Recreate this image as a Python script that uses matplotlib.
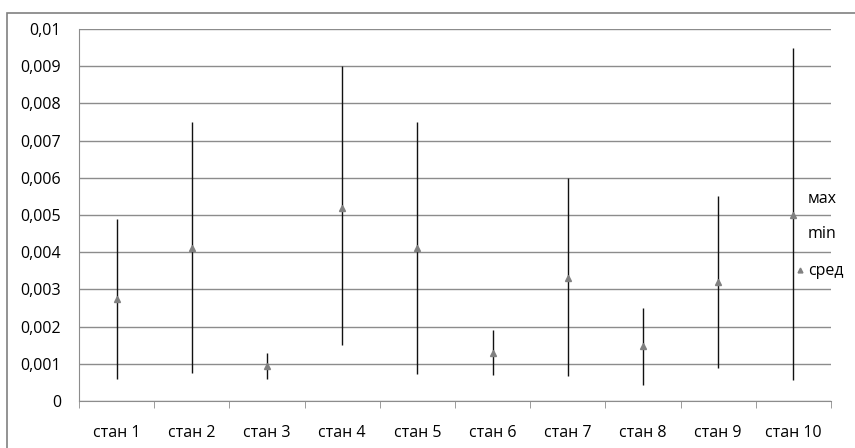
import matplotlib.pyplot as plt
from matplotlib.patches import Rectangle
from matplotlib.ticker import FuncFormatter, MultipleLocator

plt.rcParams['font.family'] = ['Open Sans', 'DejaVu Sans']

stands = ["стан 1", "стан 2", "стан 3", "стан 4", "стан 5",
          "стан 6", "стан 7", "стан 8", "стан 9", "стан 10"]
max_vals = [0.0049, 0.0075, 0.0013, 0.0090, 0.0075, 0.0019, 0.0060, 0.0025, 0.0055, 0.0095]
min_vals = [0.0006, 0.00075, 0.0006, 0.0015, 0.00073, 0.0007, 0.00068, 0.00044, 0.00089, 0.00056]
avg_vals = [0.00275, 0.0041, 0.00095, 0.0052, 0.0041, 0.0013, 0.0033, 0.00148, 0.0032, 0.0050]
legend_labels = ["мах", "min", "сред"]

fig = plt.figure(figsize=(8.55, 4.48), dpi=100)
ax = fig.add_axes([0.0924, 0.1049, 0.8795, 0.8304])

# outer chart frame
fig.patches.append(Rectangle((7 / 855, -0.1), 1.0, 1 - 13 / 448 + 0.1,
                             transform=fig.transFigure, fill=False,
                             edgecolor="#808080", linewidth=1.2))

x = list(range(len(stands)))

# high-low lines and average markers
ax.vlines(x, min_vals, max_vals, color="#111111", linewidth=1.0, zorder=3)
ax.plot(x, avg_vals, linestyle="none", marker="^", markersize=5,
        color="#808080", zorder=4)

ax.set_xlim(-0.5, len(stands) - 0.5)
ax.set_ylim(0, 0.01)
ax.yaxis.set_major_locator(MultipleLocator(0.001))
ax.yaxis.set_major_formatter(FuncFormatter(
    lambda v, p: "0" if abs(v) < 1e-12 else f"{v:.3f}".rstrip("0").replace(".", ",")))
ax.grid(axis="y", color="#8c8c8c", linewidth=1.0)
ax.set_axisbelow(True)

ax.set_xticks(x)
ax.set_xticklabels(stands)
ax.set_xticks([i - 0.5 for i in range(len(stands) + 1)], minor=True)
ax.tick_params(axis="x", which="major", length=0, pad=17, labelsize=11.5)
ax.tick_params(axis="x", which="minor", length=5, color="#8c8c8c", direction="out")
ax.tick_params(axis="y", length=0, pad=13, labelsize=11.5)

for side in ("top", "right"):
    ax.spines[side].set_visible(False)
for side in ("left", "bottom"):
    ax.spines[side].set_color("#8c8c8c")

# legend entries: max and min have no marker, the average has a triangle
legend_y = [199, 234, 271]
for label, py in zip(legend_labels, legend_y):
    fig.text(808 / 855, 1 - py / 448, label, fontsize=11.5, va="center", ha="left")
fig.lines.append(plt.Line2D([800 / 855], [1 - 270 / 448], transform=fig.transFigure,
                            linestyle="none", marker="^", markersize=3.5, color="#808080"))

fig.savefig("out.png", dpi=100)
